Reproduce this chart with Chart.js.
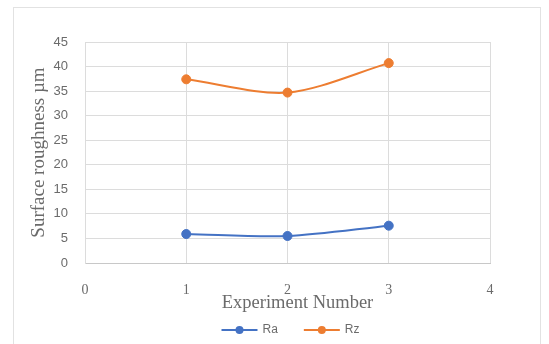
<!DOCTYPE html>
<html>
<head>
<meta charset="utf-8">
<script src="https://cdn.jsdelivr.net/npm/chart.js@4/dist/chart.umd.min.js"></script>
<style>
  html, body { margin: 0; padding: 0; background: #fff; }
  #wrap { width: 549px; height: 344px; position: relative; }
</style>
</head>
<body>
<div id="wrap"><canvas id="c" width="549" height="344"></canvas></div>
<script>
// Experiment numbers and measured roughness (µm)
const experiments = [1, 2, 3];
const raValues = [5.9, 5.5, 7.6];
const rzValues = [37.4, 34.7, 40.7];
const xTicks = [0, 1, 2, 3, 4];
const yTicks = [0, 5, 10, 15, 20, 25, 30, 35, 40, 45];
const xTitle = 'Experiment Number';

const BLUE = '#4472C4';
const ORANGE = '#ED7D31';
const TEXT = '#6b6b6b';
const GRID = '#dcdcdc';

// Light outer frame around the chart
const framePlugin = {
  id: 'frame',
  beforeDraw(chart) {
    const ctx = chart.ctx;
    ctx.save();
    ctx.strokeStyle = '#e2e2e2';
    ctx.lineWidth = 1;
    ctx.strokeRect(13.5, 7.5, 527, 345);
    ctx.restore();
  }
};

// X-axis title, set slightly right of the plot centre, just under the tick labels
const xTitlePlugin = {
  id: 'xTitle',
  afterDraw(chart) {
    const ctx = chart.ctx;
    const area = chart.chartArea;
    ctx.save();
    ctx.font = '18.5px "Liberation Serif"';
    ctx.fillStyle = TEXT;
    ctx.textAlign = 'center';
    ctx.textBaseline = 'middle';
    ctx.fillText(xTitle, (area.left + area.right) / 2 + 10, 303);
    ctx.restore();
  }
};

// Bottom legend: line-with-marker swatch followed by the series name
const lineLegend = {
  id: 'lineLegend',
  afterDraw(chart) {
    const ctx = chart.ctx;
    const area = chart.chartArea;
    const y = 330;
    const swW = 36, gapText = 5, gapItem = 26;
    ctx.save();
    ctx.font = '12px "Liberation Sans"';
    const items = chart.data.datasets.map(ds => ({
      label: ds.label, color: ds.borderColor, w: swW + gapText + ctx.measureText(ds.label).width
    }));
    const total = items.reduce((s, it) => s + it.w, 0) + gapItem * (items.length - 1);
    let x = (area.left + area.right) / 2 - total / 2 + 3;
    items.forEach(it => {
      ctx.strokeStyle = it.color;
      ctx.lineWidth = 2;
      ctx.beginPath(); ctx.moveTo(x, y); ctx.lineTo(x + swW, y); ctx.stroke();
      ctx.fillStyle = it.color;
      ctx.beginPath(); ctx.arc(x + swW / 2, y, 4, 0, Math.PI * 2); ctx.fill();
      ctx.fillStyle = TEXT;
      ctx.textBaseline = 'middle';
      ctx.textAlign = 'left';
      ctx.fillText(it.label, x + swW + gapText, y);
      x += it.w + gapItem;
    });
    ctx.restore();
  }
};

const toPoints = vals => vals.map((v, i) => ({ x: experiments[i], y: v }));

new Chart(document.getElementById('c'), {
  type: 'line',
  data: {
    datasets: [
      {
        label: 'Ra',
        data: toPoints(raValues),
        borderColor: BLUE,
        backgroundColor: BLUE,
        borderWidth: 2,
        pointRadius: 4.5,
        pointBorderWidth: 1,
        tension: 0.3
      },
      {
        label: 'Rz',
        data: toPoints(rzValues),
        borderColor: ORANGE,
        backgroundColor: ORANGE,
        borderWidth: 2,
        pointRadius: 4.5,
        pointBorderWidth: 1,
        tension: 0.3
      }
    ]
  },
  options: {
    responsive: false,
    animation: false,
    layout: { padding: { top: 42, right: 59, left: 28, bottom: 31 } },
    plugins: {
      tooltip: { enabled: false },
      legend: { display: false }
    },
    scales: {
      x: {
        type: 'linear',
        min: 0,
        max: 4,
        afterBuildTicks(scale) { scale.ticks = xTicks.map(v => ({ value: v })); },
        afterFit(scale) { scale.height = 50; },
        grid: { color: GRID, drawTicks: false },
        border: { color: '#c8c8c8' },
        ticks: {
          color: TEXT,
          padding: 19,
          font: { family: 'Liberation Serif', size: 14 }
        },
        title: { display: false }
      },
      y: {
        min: 0,
        max: 45,
        afterBuildTicks(scale) { scale.ticks = yTicks.map(v => ({ value: v })); },
        afterFit(scale) { scale.width = 57; },
        grid: { color: GRID, drawTicks: false },
        border: { color: GRID },
        ticks: {
          color: TEXT,
          padding: 17,
          font: { family: 'Liberation Sans', size: 13 }
        },
        title: {
          display: true,
          text: 'Surface roughness µm',
          color: TEXT,
          padding: { top: 0, bottom: 0 },
          font: { family: 'Liberation Serif', size: 19 }
        }
      }
    }
  },
  plugins: [framePlugin, xTitlePlugin, lineLegend]
});
</script>
</body>
</html>
